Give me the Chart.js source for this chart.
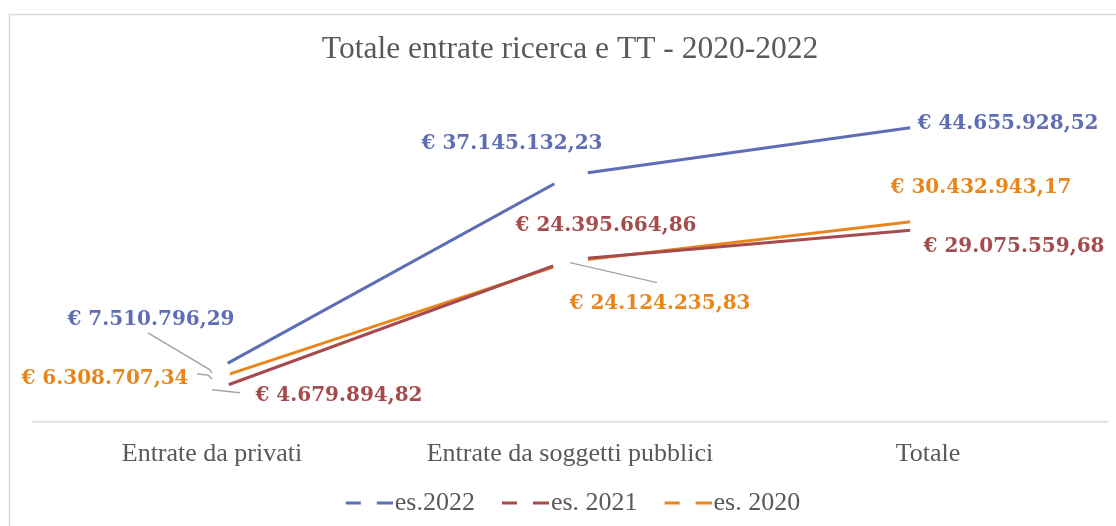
<!DOCTYPE html>
<html>
<head>
<meta charset="utf-8">
<script src="https://cdn.jsdelivr.net/npm/chart.js@4.4.1/dist/chart.umd.min.js"></script>
<style>
  html, body { margin: 0; padding: 0; background: #ffffff; overflow: hidden; }
  #wrap { width: 1116px; height: 526px; position: relative; }
</style>
</head>
<body>
<div id="wrap"><canvas id="chart"></canvas></div>
<script>
// Categories and yearly revenue series (euro)
const categories = ['Entrate da privati', 'Entrate da soggetti pubblici', 'Totale'];
const seriesNames = ['es.2022', 'es. 2021', 'es. 2020'];
const es2022 = [7510796.29, 37145132.23, 44655928.52];
const es2021 = [4679894.82, 24395664.86, 29075559.68];
const es2020 = [6308707.34, 24124235.83, 30432943.17];
const titleText = 'Totale entrate ricerca e TT - 2020-2022';

const seriesColors = ['#5E6DB6', '#A64B4D', '#E8861C'];
const textGray = '#595959';

// Value label placement relative to each point (dx, dy)
const labelOffsets = [
  [[-61, -52], [-58, -31], [80, -1]],
  [[127, 5], [36, -34], [86, 18]],
  [[-107, -1], [90, 42], [53, -32]]
];
// Leader lines from labels to points, relative to each point
const leaderLines = {
  '0-0': [[-64, -39], [-2, -2], [0, 1]],
  '2-0': [[-15, -6], [-4, -5], [0, -1]],
  '1-0': [[0, -1], [28, 2]],
  '2-1': [[0, 1], [87, 21]]
};

function euro(v) {
  const fixed = v.toFixed(2);
  const [intPart, dec] = fixed.split('.');
  const grouped = intPart.replace(/\B(?=(\d{3})+(?!\d))/g, '.');
  return '€ ' + grouped + ',' + dec;
}

// Two-dash legend marker; the image reaches past the legend box so the dashes sit right before the text
function dashMarker(color) {
  const c = document.createElement('canvas');
  c.width = 82; c.height = 4;
  const g = c.getContext('2d');
  g.fillStyle = color;
  g.fillRect(35, 0.5, 15, 3);
  g.fillRect(66, 0.5, 16, 3);
  return c;
}
const markers = seriesColors.map(dashMarker);

const frame = {
  id: 'frame',
  beforeDraw(chart) {
    const ctx = chart.ctx;
    ctx.save();
    ctx.fillStyle = '#ffffff';
    ctx.fillRect(0, 0, chart.width, chart.height);
    ctx.strokeStyle = '#D9D9D9';
    ctx.lineWidth = 1.5;
    ctx.strokeRect(9.5, 14.5, chart.width + 20, chart.height + 20);
    ctx.restore();
  }
};

// The marker box carries leading blank space; nudge the legend row so its visible part is centred
const legendNudge = {
  id: 'legendNudge',
  afterLayout(chart) {
    if (chart.legend) {
      chart.legend.left -= 9;
      chart.legend.right -= 9;
    }
  }
};

const valueLabels = {
  id: 'valueLabels',
  afterDatasetsDraw(chart) {
    const ctx = chart.ctx;
    ctx.save();
    chart.data.datasets.forEach((ds, di) => {
      const meta = chart.getDatasetMeta(di);
      meta.data.forEach((pt, i) => {
        const lead = leaderLines[di + '-' + i];
        if (lead) {
          ctx.strokeStyle = '#A6A6A6';
          ctx.lineWidth = 1.5;
          ctx.beginPath();
          lead.forEach(([dx, dy], k) => {
            if (k === 0) ctx.moveTo(pt.x + dx, pt.y + dy);
            else ctx.lineTo(pt.x + dx, pt.y + dy);
          });
          ctx.stroke();
        }
        const [ox, oy] = labelOffsets[di][i];
        ctx.fillStyle = seriesColors[di];
        ctx.font = 'bold 20px "DejaVu Serif"';
        ctx.textAlign = 'center';
        ctx.textBaseline = 'middle';
        ctx.fillText(euro(ds.data[i]), pt.x + ox, pt.y + oy);
      });
    });
    ctx.restore();
  }
};

const seriesData = [es2022, es2021, es2020];

new Chart(document.getElementById('chart'), {
  type: 'line',
  data: {
    labels: categories,
    datasets: seriesData.map((d, i) => ({
      label: seriesNames[i],
      data: d,
      borderColor: seriesColors[i],
      backgroundColor: seriesColors[i],
      borderWidth: 3,
      pointRadius: 18,
      pointHoverRadius: 18,
      pointBorderWidth: 0,
      pointBackgroundColor: '#ffffff',
      tension: 0,
      fill: false
    }))
  },
  options: {
    responsive: true,
    maintainAspectRatio: false,
    animation: false,
    events: [],
    layout: { autoPadding: false, padding: { left: 33, right: 9, top: 14, bottom: 0 } },
    plugins: {
      tooltip: { enabled: false },
      title: {
        display: true,
        text: titleText,
        color: textGray,
        font: { family: '"Liberation Serif"', size: 31.5, weight: 'normal' },
        padding: { top: 17, bottom: 21 }
      },
      legend: {
        position: 'bottom',
        labels: {
          color: textGray,
          font: { family: '"Liberation Serif"', size: 26 },
          usePointStyle: true,
          pointStyleWidth: 60,
          padding: 3,
          generateLabels(chart) {
            const items = Chart.defaults.plugins.legend.labels.generateLabels(chart);
            items.forEach((it, i) => { it.pointStyle = markers[i]; });
            return items;
          }
        }
      }
    },
    scales: {
      x: {
        offset: true,
        grid: { display: false, drawTicks: false },
        border: { display: true, color: '#D9D9D9', width: 1.5 },
        ticks: {
          color: textGray,
          font: { family: '"Liberation Serif"', size: 26 },
          padding: 17,
          maxRotation: 0,
          autoSkip: false
        }
      },
      y: {
        display: false,
        min: 0,
        max: 50000000
      }
    }
  },
  plugins: [frame, legendNudge, valueLabels]
});
</script>
</body>
</html>
